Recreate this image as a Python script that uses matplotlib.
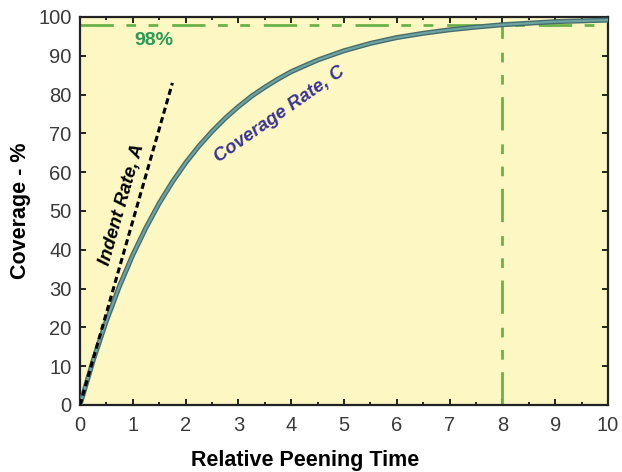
import matplotlib
matplotlib.use("Agg")
import matplotlib.pyplot as plt
from matplotlib.ticker import MultipleLocator

plt.rcParams['font.family'] = ['Liberation Sans', 'DejaVu Sans']

# coverage curve
peen_time = [0, 0.25, 0.5, 0.75, 1, 1.25, 1.5, 1.75, 2, 2.25, 2.5, 2.75, 3, 3.25,
             3.5, 3.75, 4, 4.5, 5, 5.5, 6, 6.5, 7, 7.5, 8, 8.5, 9, 9.5, 10]
coverage = [0, 11.5, 21.7, 30.7, 38.7, 45.7, 52.0, 57.5, 62.4, 66.7, 70.5, 73.9, 76.9, 79.6,
            81.9, 84.0, 85.9, 88.9, 91.3, 93.2, 94.7, 95.8, 96.7, 97.4, 98.0, 98.4, 98.8, 99.0, 99.2]

# indent rate tangent
indent_time = [0, 1.75]
indent_cov = [0, 83]

full_cov_level = 98
full_cov_time = 8

fig = plt.figure(figsize=(6.22, 4.72), dpi=100)
ax = fig.add_axes([0.1286, 0.142, 0.849, 0.822])
ax.set_facecolor('#fdf7c4')

green = '#6cb24a'
dash = (12, 4.5, 3.5, 4.5, 3.5, 5)
ax.axhline(full_cov_level, color=green, lw=2.0, dashes=dash, zorder=2)
ax.plot([full_cov_time, full_cov_time], [0, full_cov_level], color=green, lw=2.0,
        dashes=dash, zorder=2)

ax.plot(peen_time, coverage, color='#466e6c', lw=3.6, solid_capstyle='round', zorder=3)
ax.plot(peen_time, coverage, color='#6da3a2', lw=1.6, solid_capstyle='round', zorder=4)

ax.plot(indent_time, indent_cov, color='black', lw=2.2, dashes=(2.0, 1.2), zorder=5)

ax.text(1.4, 94.0, '98%', color='#2a9a55', fontsize=14, fontweight='bold',
        ha='center', va='center')
ax.text(0.80, 51.5, 'Indent Rate, A', color='black', fontsize=13.5, fontweight='bold',
        fontstyle='italic', rotation=74, ha='center', va='center')
ax.text(3.78, 74.8, 'Coverage Rate, C', color='#3a3595', fontsize=13.5, fontweight='bold',
        fontstyle='italic', rotation=35, ha='center', va='center')

ax.set_xlim(0, 10)
ax.set_ylim(0, 100)
ax.xaxis.set_major_locator(MultipleLocator(1))
ax.xaxis.set_minor_locator(MultipleLocator(0.5))
ax.yaxis.set_major_locator(MultipleLocator(10))
ax.tick_params(which='both', direction='in', top=True, right=True, labelsize=14.5,
               labelcolor='#3a3a3a', width=1.2)
ax.tick_params(which='major', length=4)
ax.tick_params(axis='x', which='major', pad=8)
ax.tick_params(axis='y', which='major', pad=6)
ax.tick_params(which='minor', length=2.5)
for s in ax.spines.values():
    s.set_linewidth(1.6)
    s.set_color('#222222')

ax.set_xlabel('Relative Peening Time', fontsize=15.5, fontweight='bold', labelpad=11)
ax.xaxis.set_label_coords(0.426, -0.115)
ax.set_ylabel('Coverage - %', fontsize=15.5, fontweight='bold', labelpad=5)

fig.savefig('out.png', dpi=100)
